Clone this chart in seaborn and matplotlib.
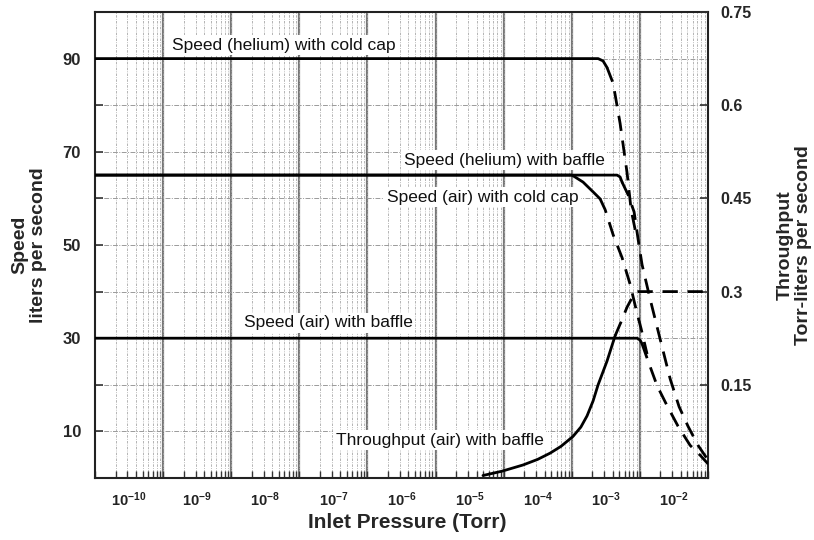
import numpy as np
import pandas as pd
import matplotlib
matplotlib.use("Agg")
import matplotlib.pyplot as plt
import seaborn as sns
from matplotlib.ticker import FixedLocator, FixedFormatter, NullFormatter

# ---------------- data (pressure in Torr, speed in L/s, throughput in Torr-L/s) -------------
he_cc_solid_p = [3.2e-11, 7.7e-4, 9.1e-4, 1.04e-3]
he_cc_solid_s = [90, 90, 89.5, 88.1]
he_cc_dash_p = [1.04e-3, 1.28e-3, 1.62e-3, 2.05e-3, 2.35e-3, 2.88e-3]
he_cc_dash_s = [88.1, 84.7, 76.1, 65.5, 57.6, 51.2]

he_bf_solid_p = [3.2e-11, 1.46e-3, 1.62e-3, 1.73e-3]
he_bf_solid_s = [65, 65, 64.6, 63.5]
he_bf_dash_p = [1.73e-3, 2.12e-3, 2.60e-3, 2.98e-3, 3.40e-3, 4.47e-3, 6.27e-3,
                8.79e-3, 1.19e-2, 1.61e-2, 2.26e-2, 3.18e-2]
he_bf_dash_s = [63.5, 60.8, 57.1, 51.2, 45.8, 38.4, 29.8, 21.3, 15.3, 11.1, 7.0, 3.8]

air_cc_solid_p = [3.2e-11, 3.19e-4, 4.63e-4, 6.5e-4, 8.24e-4]
air_cc_solid_s = [65, 65, 63.5, 61.4, 59.9]
air_cc_dash_p = [8.24e-4, 9.76e-4, 1.28e-3, 1.73e-3, 2.27e-3, 2.78e-3, 3.30e-3, 4.03e-3]
air_cc_dash_s = [59.9, 57.6, 52.2, 47.3, 41.6, 36.2, 32.0, 26.6]

air_bf_solid_p = [3.2e-11, 2.88e-3, 3.18e-3, 3.40e-3]
air_bf_solid_s = [30, 30, 29.6, 28.8]
air_bf_dash_p = [3.40e-3, 4.17e-3, 5.66e-3, 7.94e-3, 1.15e-2, 1.73e-2, 2.42e-2, 3.18e-2]
air_bf_dash_s = [28.8, 25.1, 19.8, 15.5, 11.1, 7.0, 4.9, 3.0]

tp_solid_p = [1.57e-5, 3.0e-5, 6.1e-5, 1.0e-4, 1.52e-4, 2.2e-4, 3.3e-4, 4.3e-4,
              5.3e-4, 6.5e-4, 7.7e-4, 1.04e-3, 1.37e-3]
tp_solid_q = [0.004, 0.011, 0.021, 0.030, 0.040, 0.051, 0.067, 0.082,
              0.100, 0.124, 0.150, 0.188, 0.229]
tp_dash_p = [1.37e-3, 1.67e-3, 2.05e-3, 2.51e-3, 2.88e-3, 3.18e-2]
tp_dash_q = [0.229, 0.251, 0.275, 0.293, 0.300, 0.300]

x_tick_exps = [-10, -9, -8, -7, -6, -5, -4, -3, -2]
x_tick_labels = [r"$\mathregular{10^{%d}}$" % e for e in x_tick_exps]
y_major = [10, 30, 50, 70, 90]
y_minor = [20, 40, 60, 80]
y2_ticks = [0.15, 0.3, 0.45, 0.6, 0.75]
y2_labels = ["0.15", "0.3", "0.45", "0.6", "0.75"]

labels = [
    ("Speed (helium) with cold cap", 0.1256, 0.929),
    ("Speed (helium) with baffle", 0.504, 0.682),
    ("Speed (air) with cold cap", 0.476, 0.603),
    ("Speed (air) with baffle", 0.243, 0.333),
    ("Throughput (air) with baffle", 0.393, 0.0815),
]

# ---------------- style ----------------
sns.set_theme(style="white")
plt.rcParams["font.family"] = ["Liberation Sans", "DejaVu Sans"]
plt.rcParams["mathtext.fontset"] = "custom"
plt.rcParams["mathtext.rm"] = "Liberation Sans:bold"
plt.rcParams["mathtext.it"] = "Liberation Sans:bold"
plt.rcParams["mathtext.bf"] = "Liberation Sans:bold"

fig = plt.figure(figsize=(8.14, 5.40), dpi=100)
ax = fig.add_axes([95 / 814, 62 / 540, 613 / 814, 466 / 540])
ax.set_xscale("log")
xmin, xmax = 10 ** -10.5, 10 ** -1.5
ax.set_xlim(xmin, xmax)
ax.set_ylim(0, 100)

# grid: decade boundaries and minor log lines
bounds = [10 ** (-10.5 + j) for j in range(10)]
minor_pos = [b * m for b in bounds[:-1] for m in range(1, 10)] + [bounds[-1]]
ax.xaxis.set_major_locator(FixedLocator([10.0 ** e for e in x_tick_exps]))
ax.xaxis.set_major_formatter(FixedFormatter(x_tick_labels))
ax.xaxis.set_minor_locator(FixedLocator(minor_pos))
ax.xaxis.set_minor_formatter(NullFormatter())
ax.grid(False)
ax.grid(axis="x", which="minor", color="#a8a8a8", lw=0.6, ls=(0, (3, 1.5, 1, 1.5)), zorder=0)
for b in bounds[1:-1]:
    ax.axvline(b, color="#777777", lw=1.6, zorder=0.5)

ax.yaxis.set_major_locator(FixedLocator(y_major))
ax.yaxis.set_minor_locator(FixedLocator(y_minor))
ax.grid(axis="y", which="both", color="#9a9a9a", lw=0.7, ls=(0, (5, 1.5, 1, 1.5)), zorder=0)

ax.tick_params(axis="x", which="major", length=0, pad=9, labelsize=10.5)
ax.tick_params(axis="x", which="minor", direction="in", length=5, width=1, color="#333333",
               bottom=True, top=False)
ax.tick_params(axis="y", which="both", direction="in", length=6, width=1.2, color="#333333",
               left=True, right=False, labelsize=12, pad=10)
for lab in ax.get_yticklabels():
    lab.set_fontweight("bold")
for lab in ax.get_xticklabels():
    lab.set_fontweight("bold")
    lab.set_color("#222222")

for sp in ax.spines.values():
    sp.set_color("#222222")
    sp.set_linewidth(1.5)

lw = 2.0
dash = (0, (5.5, 3.5))

def draw(p, v, style, axis):
    df = pd.DataFrame({"p": p, "v": v})
    sns.lineplot(data=df, x="p", y="v", ax=axis, color="black", lw=lw, linestyle=style,
                 estimator=None, sort=False, zorder=3)

draw(he_cc_solid_p, he_cc_solid_s, "-", ax)
draw(he_cc_dash_p, he_cc_dash_s, dash, ax)
draw(he_bf_solid_p, he_bf_solid_s, "-", ax)
draw(he_bf_dash_p, he_bf_dash_s, dash, ax)
draw(air_cc_solid_p, air_cc_solid_s, "-", ax)
draw(air_cc_dash_p, air_cc_dash_s, dash, ax)
draw(air_bf_solid_p, air_bf_solid_s, "-", ax)
draw(air_bf_dash_p, air_bf_dash_s, dash, ax)

ax2 = ax.twinx()
ax2.set_ylim(0, 0.75)
ax2.set_xlim(xmin, xmax)
draw(tp_solid_p, tp_solid_q, "-", ax2)
draw(tp_dash_p, tp_dash_q, dash, ax2)
ax2.yaxis.set_major_locator(FixedLocator(y2_ticks))
ax2.yaxis.set_major_formatter(FixedFormatter(y2_labels))
ax2.tick_params(axis="y", direction="in", length=6, width=1.2, color="#333333",
                labelsize=11.5, pad=9)
for lab in ax2.get_yticklabels():
    lab.set_fontweight("bold")
ax2.grid(False)
for sp in ax2.spines.values():
    sp.set_visible(False)

ax.set_xlabel("")
ax.set_ylabel("")
ax2.set_ylabel("")

for txt, fx, fy in labels:
    ax.text(fx, fy, txt, transform=ax.transAxes, ha="left", va="center", fontsize=12.5,
            color="#111111", zorder=5,
            bbox=dict(boxstyle="square,pad=0.15", fc="white", ec="none"))

fig.text(407 / 814, 1 - 523 / 540, "Inlet Pressure (Torr)", ha="center", va="center",
         fontsize=15, fontweight="bold")
fig.text(29 / 814, 1 - 245 / 540, "Speed\nliters per second", ha="center", va="center",
         rotation=90, fontsize=14, fontweight="bold", linespacing=1.1, multialignment="center")
fig.text(794 / 814, 1 - 245 / 540, "Throughput\nTorr-liters per second", ha="center", va="center",
         rotation=90, fontsize=14, fontweight="bold", linespacing=1.1, multialignment="center")

fig.savefig("out.png", dpi=100, facecolor="white")
